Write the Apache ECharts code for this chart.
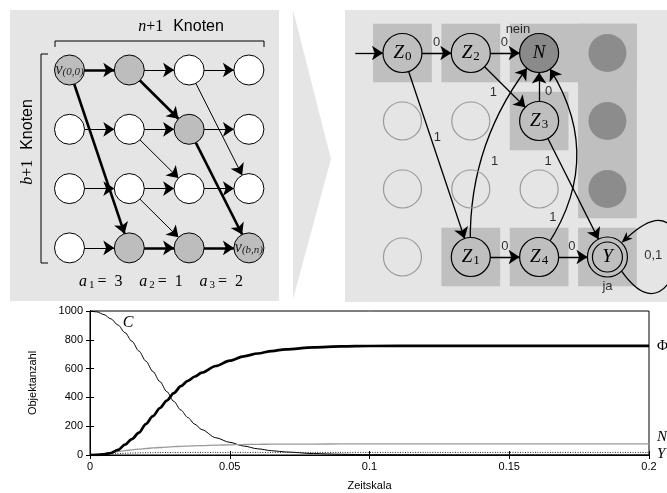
<!DOCTYPE html>
<html>
<head>
<meta charset="utf-8">
<script src="https://cdn.jsdelivr.net/npm/echarts@6/dist/echarts.min.js"></script>
<style>
  html, body { margin: 0; padding: 0; background: #fff; }
  #main { width: 667px; height: 493px; }
</style>
</head>
<body>
<div id="main"></div>
<script>
// ---- Verlauf (unten) ----
var zeit = [0, 0.0025, 0.005, 0.0075, 0.01, 0.0125, 0.015, 0.0175, 0.02, 0.0225, 0.025, 0.0275, 0.03, 0.0325, 0.035, 0.0375, 0.04, 0.045, 0.05, 0.055, 0.06, 0.065, 0.07, 0.08, 0.09, 0.1, 0.12, 0.14, 0.16, 0.18, 0.2];
var wertC = [1000, 994, 975, 945, 903, 850, 790, 722, 652, 580, 510, 440, 372, 312, 260, 214, 176, 120, 88, 62, 43, 30, 21, 10, 5, 2, 1, 0, 0, 0, 0];
var wertPhi = [0, 1, 5, 14, 35, 72, 110, 155, 215, 270, 326, 378, 430, 478, 515, 545, 572, 618, 655, 685, 705, 722, 734, 748, 754, 757, 758, 758, 758, 758, 758];
var wertN = [0, 4, 10, 17, 24, 30, 36, 41, 45, 49, 52, 55, 58, 60, 62, 64, 65, 68, 71, 73, 74, 75, 75, 76, 77, 77, 77, 77, 77, 77, 77];
var wertY = [0, 2, 5, 8, 10, 12, 14, 15, 16, 16, 17, 17, 17, 17, 18, 18, 18, 18, 18, 18, 18, 18, 18, 18, 18, 18, 18, 18, 18, 18, 18];
var yTicks = [0, 200, 400, 600, 800, 1000];
var xTicks = [0, 0.05, 0.1, 0.15, 0.2];

// ---- Gittergraph (links) ----
var gitterSpalten = [0, 1, 2, 3];
var gitterZeilen = [0, 1, 2, 3];
var gitterMarkiert = [[0, 0], [1, 0], [2, 1], [1, 3], [2, 3], [3, 3]];
// [spalte1, zeile1, spalte2, zeile2]
var kantenDick = [[0, 0, 1, 0], [0, 0, 1, 3], [1, 0, 2, 1], [2, 1, 3, 3], [1, 3, 2, 3], [2, 3, 3, 3]];
var kantenDuenn = [[1, 0, 2, 0], [2, 0, 3, 0], [0, 1, 1, 1], [1, 1, 2, 1], [2, 1, 3, 1], [0, 2, 1, 2], [1, 2, 2, 2], [2, 2, 3, 2], [0, 3, 1, 3], [2, 0, 3, 2], [1, 1, 2, 2], [1, 2, 2, 3]];

// ---- Automat (rechts) ----
var zNamen = ['Z0', 'Z2', 'N', 'Z3', 'Z1', 'Z4', 'Y'];
var zSpalte = [0, 1, 2, 2, 1, 2, 3];
var zZeile = [0, 0, 0, 1, 3, 3, 3];
var leerKreise = [[0, 1], [1, 1], [0, 2], [1, 2], [2, 2], [0, 3]];
var dunkelKreise = [[3, 0], [3, 1], [3, 2]];
// [von, nach, kruemmung]
var uebergaenge = [['start', 'Z0', 0], ['Z0', 'Z2', 0], ['Z2', 'N', 0], ['Z0', 'Z1', 0], ['Z2', 'Z3', 0], ['Z3', 'N', 0], ['Z1', 'N', 0.2], ['Z3', 'Y', 0], ['Z1', 'Z4', 0], ['Z4', 'Y', 0], ['Z4', 'N', -0.37]];
var startPunkt = [-0.69, 0];
// [spalte von, spalte bis, zeile von, zeile bis]
var zellen = [[0, 0, 0, 0], [1, 1, 0, 0], [2, 3, 0, 0], [3, 3, 0, 2], [2, 2, 1, 1], [1, 1, 3, 3], [2, 2, 3, 3], [3, 3, 3, 3]];
var kantenText = ['0', '0', 'nein', '1', '0', '1', '1', '1', '1', '0', '0', '0,1', 'ja'];
var kantenTextX = [0.5, 1.49, 1.69, 1.33, 2.14, 0.51, 1.35, 2.13, 2.2, 1.5, 2.48, 3.67, 3.0];
var kantenTextY = [-0.16, -0.16, -0.35, 0.58, 0.56, 1.24, 1.6, 1.6, 2.42, 2.84, 2.84, 2.97, 3.43];
var schleife = [3, 3];

var BG = '#e5e5e5';
var ZELLE = '#bfbfbf';
var serif = '"Liberation Serif", "DejaVu Serif", serif';
var sans = '"Liberation Sans", Arial, sans-serif';

var chart = echarts.init(document.getElementById('main'));

function paare(ys) {
  return zeit.map(function (t, i) { return [t, ys[i]]; });
}

// linke Knoten
var linksKnoten = [];
gitterZeilen.forEach(function (r) {
  gitterSpalten.forEach(function (c) {
    var mark = gitterMarkiert.some(function (m) { return m[0] === c && m[1] === r; });
    var n = { name: c + '_' + r, value: [c, r], itemStyle: { color: mark ? '#bdbdbd' : '#fff', borderColor: '#000', borderWidth: 1 } };
    if (c === 0 && r === 0) n.label = { show: true, formatter: '{v|v}{s|(0,0)}' };
    if (c === 3 && r === 3) n.label = { show: true, formatter: '{v|v}{s|(b,n)}' };
    linksKnoten.push(n);
  });
});
var linksKanten = [];
kantenDick.forEach(function (k) {
  linksKanten.push({ source: k[0] + '_' + k[1], target: k[2] + '_' + k[3], lineStyle: { width: 2.6 } });
});
kantenDuenn.forEach(function (k) {
  linksKanten.push({ source: k[0] + '_' + k[1], target: k[2] + '_' + k[3], lineStyle: { width: 1 } });
});

// rechte Knoten
var rechtsKnoten = [{ name: 'start', value: startPunkt, symbolSize: 0 }];
zNamen.forEach(function (nm, i) {
  var lab = nm.length > 1 ? '{z|' + nm[0] + '}{s|' + nm.slice(1) + '}' : '{z|' + nm + '}';
  rechtsKnoten.push({
    name: nm, value: [zSpalte[i], zZeile[i]],
    symbolSize: nm === 'Y' ? 40 : 39,
    itemStyle: { color: nm === 'N' ? '#8a8a8a' : ZELLE, borderColor: '#000', borderWidth: 1.2 },
    label: { show: true, formatter: lab }
  });
});
leerKreise.forEach(function (p, i) {
  rechtsKnoten.push({ name: 'leer' + i, value: p, symbolSize: 38, itemStyle: { color: 'rgba(0,0,0,0)', borderColor: '#9a9a9a', borderWidth: 1.2 } });
});
dunkelKreise.forEach(function (p, i) {
  rechtsKnoten.push({ name: 'dunkel' + i, value: p, symbolSize: 38, itemStyle: { color: '#8c8c8c', borderWidth: 0 } });
});
var rechtsKanten = uebergaenge.map(function (u) {
  return { source: u[0], target: u[1], lineStyle: { curveness: u[2] } };
});

var achseAus = { type: 'value', min: -0.5, max: 3.5, show: false };

var option = {
  backgroundColor: '#fff',
  animation: false,
  graphic: [
    { type: 'rect', z: -10, silent: true, shape: { x: 10, y: 10, width: 269, height: 291 }, style: { fill: BG } },
    { type: 'rect', z: -10, silent: true, shape: { x: 345, y: 10, width: 322, height: 292 }, style: { fill: BG } },
    { type: 'polygon', z: -10, silent: true, shape: { points: [[293, 10], [331, 159], [293, 299]] }, style: { fill: BG } },
    { type: 'polyline', z: 10, silent: true, shape: { points: [[55, 47], [55, 41], [264, 41], [264, 47]] }, style: { stroke: '#000', lineWidth: 1, fill: null } },
    { type: 'polyline', z: 10, silent: true, shape: { points: [[48, 54], [41, 54], [41, 263], [48, 263]] }, style: { stroke: '#000', lineWidth: 1, fill: null } },
    { type: 'text', z: 10, silent: true, x: 181, y: 27, style: {
      text: '{i|n}{r|+1}   {k|Knoten}', align: 'center', verticalAlign: 'middle',
      rich: { i: { fontFamily: serif, fontStyle: 'italic', fontSize: 16, fill: '#000' }, r: { fontFamily: serif, fontSize: 16, fill: '#000' }, k: { fontFamily: sans, fontSize: 16, fill: '#000' } }
    } },
    { type: 'text', z: 10, silent: true, x: 28, y: 142, rotation: Math.PI / 2, style: {
      text: '{i|b}{r|+1}   {k|Knoten}', align: 'center', verticalAlign: 'middle',
      rich: { i: { fontFamily: serif, fontStyle: 'italic', fontSize: 16, fill: '#000' }, r: { fontFamily: serif, fontSize: 16, fill: '#000' }, k: { fontFamily: sans, fontSize: 16, fill: '#000' } }
    } },
    { type: 'text', z: 10, silent: true, x: 161, y: 282, style: {
      text: '{a|a}{s|1}{r|=  3}     {a|a}{s|2}{r|=  1}     {a|a}{s|3}{r|=  2}', align: 'center', verticalAlign: 'middle',
      rich: {
        a: { fontFamily: serif, fontStyle: 'italic', fontSize: 16, fill: '#000', lineHeight: 18 },
        s: { fontFamily: serif, fontSize: 11, fill: '#000', lineHeight: 10, padding: [12, 3, 0, 2], verticalAlign: 'bottom' },
        r: { fontFamily: serif, fontSize: 16, fill: '#000', lineHeight: 18 }
      }
    } }
  ],
  grid: [
    { left: 39.6, width: 239.2, top: 40.35, height: 237.2 },
    { left: 368.3, width: 273.3, top: 19, height: 272 },
    { left: 90, right: 18, top: 311, bottom: 38, show: true, borderColor: '#000', borderWidth: 1 }
  ],
  xAxis: [
    Object.assign({ gridIndex: 0 }, achseAus),
    Object.assign({ gridIndex: 1 }, achseAus),
    {
      gridIndex: 2, type: 'value', min: xTicks[0], max: xTicks[xTicks.length - 1], interval: 0.05,
      axisLine: { lineStyle: { color: '#000', width: 1 } },
      axisTick: { inside: true, length: 4, lineStyle: { color: '#000' } },
      axisLabel: { color: '#000', fontSize: 11, fontFamily: sans, margin: 6, formatter: function (v) { return String(+v.toFixed(2)); } },
      splitLine: { show: false },
      name: 'Zeitskala', nameLocation: 'middle', nameGap: 25,
      nameTextStyle: { color: '#000', fontSize: 11, fontFamily: sans }
    },
    {
      gridIndex: 2, type: 'value', position: 'top', min: 0, max: 0.2, interval: 0.05,
      axisLine: { lineStyle: { color: '#000' } },
      axisTick: { inside: true, length: 4, lineStyle: { color: '#000' } },
      axisLabel: { show: false }, splitLine: { show: false }
    }
  ],
  yAxis: [
    Object.assign({ gridIndex: 0, inverse: true }, achseAus),
    Object.assign({ gridIndex: 1, inverse: true }, achseAus),
    {
      gridIndex: 2, type: 'value', min: yTicks[0], max: yTicks[yTicks.length - 1], interval: 200,
      axisLine: { lineStyle: { color: '#000' } },
      axisTick: { inside: true, length: 4, lineStyle: { color: '#000' } },
      axisLabel: { color: '#000', fontSize: 11, fontFamily: sans, margin: 7, formatter: function (v) { return String(v); } },
      splitLine: { show: false },
      name: 'Objektanzahl', nameLocation: 'middle', nameGap: 52,
      nameTextStyle: { color: '#000', fontSize: 11, fontFamily: sans }
    },
    {
      gridIndex: 2, type: 'value', position: 'right', min: 0, max: 1000, interval: 200,
      axisLine: { lineStyle: { color: '#000' } },
      axisTick: { inside: true, length: 4, lineStyle: { color: '#000' } },
      axisLabel: { show: false }, splitLine: { show: false }
    }
  ],
  series: [
    // Zellen rechts
    {
      type: 'custom', xAxisIndex: 1, yAxisIndex: 1, z: 1, silent: true, clip: false,
      data: zellen,
      encode: { x: [0, 1], y: [2, 3] },
      renderItem: function (params, api) {
        var h = 0.43;
        var p0 = api.coord([api.value(0) - h, api.value(2) - h]);
        var p1 = api.coord([api.value(1) + h, api.value(3) + h]);
        return {
          type: 'rect',
          shape: { x: Math.min(p0[0], p1[0]), y: Math.min(p0[1], p1[1]), width: Math.abs(p1[0] - p0[0]), height: Math.abs(p1[1] - p0[1]) },
          style: { fill: ZELLE }
        };
      }
    },
    // Gittergraph
    {
      type: 'graph', coordinateSystem: 'cartesian2d', xAxisIndex: 0, yAxisIndex: 0, z: 2, silent: true,
      symbol: 'circle', symbolSize: 30,
      edgeSymbol: ['none', 'arrow'], edgeSymbolSize: 11,
      data: linksKnoten, links: linksKanten,
      lineStyle: { color: '#000', opacity: 1, width: 1 },
      label: {
        show: false, position: 'inside',
        rich: {
          v: { fontFamily: serif, fontStyle: 'italic', fontSize: 16, color: '#222', lineHeight: 16 },
          s: { fontFamily: serif, fontStyle: 'italic', fontSize: 11, color: '#222', lineHeight: 10, padding: [8, 0, 0, 0], verticalAlign: 'bottom' }
        }
      },
      emphasis: { disabled: true }
    },
    // Automat
    {
      type: 'graph', coordinateSystem: 'cartesian2d', xAxisIndex: 1, yAxisIndex: 1, z: 2, silent: true,
      symbol: 'circle', symbolSize: 39,
      edgeSymbol: ['none', 'arrow'], edgeSymbolSize: 11,
      data: rechtsKnoten, links: rechtsKanten,
      lineStyle: { color: '#000', opacity: 1, width: 1.3 },
      label: {
        show: false, position: 'inside',
        rich: {
          z: { fontFamily: serif, fontStyle: 'italic', fontSize: 19, color: '#000', lineHeight: 20 },
          s: { fontFamily: serif, fontSize: 13, color: '#000', lineHeight: 12, padding: [10, 0, 0, 1], verticalAlign: 'bottom' }
        }
      },
      emphasis: { disabled: true }
    },
    // innerer Ring Y
    {
      type: 'scatter', xAxisIndex: 1, yAxisIndex: 1, z: 3, silent: true,
      data: [schleife], symbolSize: 30,
      itemStyle: { color: 'rgba(0,0,0,0)', borderColor: '#000', borderWidth: 1.2, opacity: 1 }
    },
    // Schleife Y
    {
      type: 'custom', xAxisIndex: 1, yAxisIndex: 1, z: 2, silent: true, clip: false,
      data: [schleife],
      renderItem: function (params, api) {
        var c = api.coord([api.value(0), api.value(1)]);
        var r = 20;
        var x0 = c[0] + r * Math.cos(Math.PI / 4), y0 = c[1] + r * Math.sin(Math.PI / 4);
        var x3 = c[0] + r * Math.cos(-Math.PI / 4), y3 = c[1] + r * Math.sin(-Math.PI / 4);
        var c1 = [c[0] + 75, c[1] + 100], c2 = [c[0] + 100, c[1] - 95];
        var dx = x3 - c2[0], dy = y3 - c2[1], d = Math.sqrt(dx * dx + dy * dy);
        dx /= d; dy /= d;
        var L = 11, W = 4.5;
        var bx = x3 - dx * L, by = y3 - dy * L;
        return {
          type: 'group',
          children: [
            { type: 'bezierCurve', shape: { x1: x0, y1: y0, cpx1: c1[0], cpy1: c1[1], cpx2: c2[0], cpy2: c2[1], x2: x3 - dx * 6, y2: y3 - dy * 6 }, style: { stroke: '#000', lineWidth: 1.3, fill: null } },
            { type: 'polygon', shape: { points: [[x3, y3], [bx - dy * W, by + dx * W], [x3 - dx * 8, y3 - dy * 8], [bx + dy * W, by - dx * W]] }, style: { fill: '#000' } }
          ]
        };
      }
    },
    // Beschriftungen Automat
    {
      type: 'scatter', xAxisIndex: 1, yAxisIndex: 1, z: 4, silent: true, clip: false,
      symbolSize: 1, itemStyle: { color: 'rgba(0,0,0,0)' },
      data: kantenText.map(function (t, i) { return { name: t, value: [kantenTextX[i], kantenTextY[i]] }; }),
      label: { show: true, position: 'inside', formatter: '{b}', color: '#000', fontFamily: sans, fontSize: 13 }
    },
    // Verlauf
    {
      name: 'C', type: 'line', xAxisIndex: 2, yAxisIndex: 2, data: paare(wertC),
      showSymbol: false, symbol: 'none', smooth: 0.3, smoothMonotone: 'x',
      lineStyle: { color: '#000', width: 1 },
      markPoint: {
        symbol: 'circle', symbolSize: 0, silent: true,
        data: [{ coord: [0.0136, 915] }],
        label: { show: true, position: 'inside', formatter: 'C', color: '#000', fontFamily: serif, fontStyle: 'italic', fontSize: 16 }
      }
    },
    {
      name: 'N', type: 'line', xAxisIndex: 2, yAxisIndex: 2, data: paare(wertN),
      showSymbol: false, symbol: 'none', smooth: 0.3, smoothMonotone: 'x',
      lineStyle: { color: '#9a9a9a', width: 1.3 },
      endLabel: { show: true, formatter: 'N', distance: 8, offset: [0, -7], color: '#000', fontFamily: serif, fontStyle: 'italic', fontSize: 15 }
    },
    {
      name: 'Y', type: 'line', xAxisIndex: 2, yAxisIndex: 2, data: paare(wertY),
      showSymbol: false, symbol: 'none', smooth: 0.3, smoothMonotone: 'x',
      lineStyle: { color: '#222', width: 1, type: [1, 1.5] },
      endLabel: { show: true, formatter: 'Y', distance: 8, offset: [0, 2], color: '#000', fontFamily: serif, fontStyle: 'italic', fontSize: 15 }
    },
    {
      name: 'Phi', type: 'line', xAxisIndex: 2, yAxisIndex: 2, data: paare(wertPhi),
      showSymbol: false, symbol: 'none', smooth: 0.3, smoothMonotone: 'x',
      lineStyle: { color: '#000', width: 2.7 },
      endLabel: { show: true, formatter: 'Φ', distance: 8, color: '#000', fontFamily: serif, fontSize: 15 }
    }
  ]
};

chart.setOption(option);
</script>
</body>
</html>
